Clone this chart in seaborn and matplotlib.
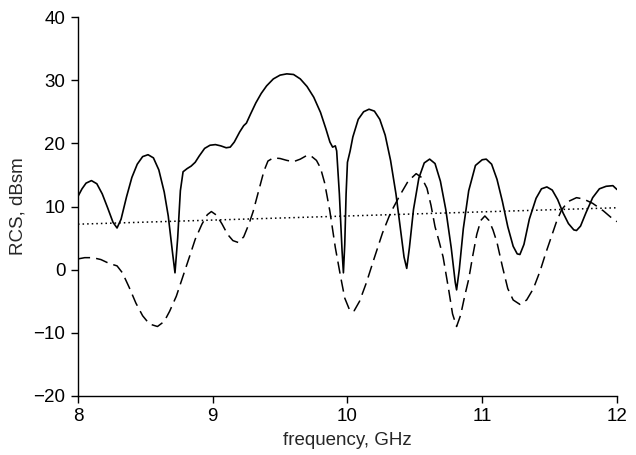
import numpy as np
import pandas as pd
import seaborn as sns
from matplotlib import pyplot as plt

# solid curve
solid_x = [8.00, 8.03, 8.06, 8.10, 8.14, 8.18, 8.22, 8.26, 8.29, 8.32, 8.36, 8.40, 8.44, 8.48,
           8.52, 8.56, 8.60, 8.64, 8.67, 8.70, 8.72, 8.74, 8.76, 8.78, 8.81, 8.84, 8.87, 8.90,
           8.94, 8.98, 9.02, 9.06, 9.10, 9.13, 9.16, 9.20, 9.23, 9.25, 9.28, 9.32, 9.36, 9.40,
           9.45, 9.50, 9.55, 9.60, 9.65, 9.70, 9.75, 9.80, 9.84, 9.87, 9.89, 9.91, 9.92, 9.94,
           9.96, 9.97, 9.98, 9.99, 10.00, 10.02, 10.04, 10.08, 10.12, 10.16, 10.20, 10.24, 10.28,
           10.32, 10.36, 10.39, 10.42, 10.44, 10.46, 10.49, 10.53, 10.57, 10.61, 10.65, 10.69,
           10.73, 10.77, 10.80, 10.81, 10.83, 10.86, 10.90, 10.95, 11.00, 11.03, 11.07, 11.11,
           11.15, 11.19, 11.23, 11.26, 11.28, 11.31, 11.35, 11.40, 11.44, 11.48, 11.52, 11.56,
           11.60, 11.64, 11.68, 11.70, 11.73, 11.77, 11.82, 11.87, 11.92, 11.97, 12.00]
solid_y = [11.6, 12.8, 13.7, 14.1, 13.6, 12.0, 9.8, 7.5, 6.6, 8.0, 11.5, 14.6, 16.7, 17.9,
           18.2, 17.7, 15.8, 12.3, 8.5, 3.0, -0.5, 5.0, 12.5, 15.5, 16.0, 16.4, 17.0, 18.0,
           19.2, 19.7, 19.8, 19.6, 19.3, 19.4, 20.2, 21.8, 22.8, 23.2, 24.6, 26.4, 27.9, 29.1,
           30.2, 30.8, 31.0, 30.9, 30.2, 29.0, 27.3, 24.9, 22.3, 20.2, 19.4, 19.6, 18.8, 12.0,
           3.0, -0.5, 4.0, 12.0, 17.0, 18.8, 21.0, 23.8, 25.0, 25.4, 25.1, 23.8, 21.3,
           17.3, 12.0, 7.0, 2.0, 0.2, 3.5, 9.5, 14.5, 16.9, 17.5, 16.8, 14.0,
           9.5, 3.5, -2.0, -3.2, 0.0, 6.5, 12.5, 16.5, 17.4, 17.5, 16.7, 14.3,
           10.8, 6.8, 3.7, 2.5, 2.4, 4.0, 8.0, 11.3, 12.8, 13.1, 12.6, 11.1,
           9.0, 7.3, 6.3, 6.2, 6.9, 9.0, 11.4, 12.8, 13.2, 13.3, 12.7]

# dashed curve
dashed_x = [8.00, 8.05, 8.11, 8.17, 8.23, 8.29, 8.33, 8.38, 8.43, 8.48, 8.53, 8.59, 8.64, 8.68,
            8.73, 8.78, 8.83, 8.87, 8.92, 8.96, 8.99, 9.03, 9.07, 9.11, 9.15, 9.19, 9.23, 9.27,
            9.30, 9.34, 9.38, 9.41, 9.45, 9.50, 9.55, 9.60, 9.65, 9.70, 9.73, 9.77, 9.80, 9.83,
            9.87, 9.91, 9.95, 9.98, 10.02, 10.05, 10.09, 10.14, 10.20, 10.26, 10.32, 10.39,
            10.45, 10.51, 10.55, 10.59, 10.62, 10.65, 10.68, 10.71, 10.75, 10.78, 10.81, 10.84,
            10.87, 10.90, 10.93, 10.96, 10.99, 11.02, 11.05, 11.08, 11.11, 11.15, 11.19, 11.23,
            11.28, 11.33, 11.38, 11.43, 11.47, 11.51, 11.55, 11.59, 11.64, 11.70, 11.75, 11.82,
            11.90, 11.96, 12.00]
dashed_y = [1.7, 1.9, 1.9, 1.6, 1.0, 0.6, -0.5, -2.8, -5.3, -7.3, -8.6, -9.0, -8.2, -6.6,
            -4.2, -1.0, 2.2, 4.8, 7.2, 8.7, 9.2, 8.6, 7.2, 5.6, 4.6, 4.3, 5.2, 7.3,
            9.2, 12.4, 15.6, 17.2, 17.7, 17.6, 17.3, 17.1, 17.5, 18.1, 18.0, 17.3, 16.1, 13.8,
            9.2, 3.5, -1.2, -4.5, -6.6, -6.5, -5.0, -2.1, 1.9, 5.8, 9.0, 11.8,
            14.0, 15.2, 14.6, 12.9, 10.2, 6.8, 4.5, 2.0, -3.0, -7.0, -9.0, -7.2,
            -4.2, -1.5, 2.2, 5.6, 7.8, 8.5, 7.8, 6.3, 4.3, 0.5, -3.0, -4.8,
            -5.5, -4.8, -3.0, -0.2, 2.5, 5.0, 7.5, 9.5, 10.8, 11.4, 11.2, 10.5,
            9.3, 8.2, 7.6]

# dotted curve
dotted_x = [8.0, 9.0, 10.0, 11.0, 12.0]
dotted_y = [7.2, 7.85, 8.5, 9.15, 9.8]

sns.set_style('ticks')
plt.rcParams['font.family'] = ['Liberation Sans', 'DejaVu Sans']

fig, ax = plt.subplots(figsize=(6.36, 4.55), dpi=100)
fig.subplots_adjust(left=0.1226, right=0.970, bottom=0.1297, top=0.9626)

sns.lineplot(x=solid_x, y=solid_y, ax=ax, color='black', linewidth=1.2, sort=False)
sns.lineplot(x=dashed_x, y=dashed_y, ax=ax, color='black', linewidth=1.1, sort=False,
             dashes=False, linestyle=(0, (8, 4)))
sns.lineplot(x=dotted_x, y=dotted_y, ax=ax, color='black', linewidth=1.1, sort=False,
             linestyle=(0, (1, 2)))

ax.set_xlim(8, 12)
ax.set_ylim(-20, 40)
ax.set_xticks([8, 9, 10, 11, 12])
ax.set_yticks([-20, -10, 0, 10, 20, 30, 40])
ax.set_yticklabels(['\u221220', '\u221210', '0', '10', '20', '30', '40'])
ax.set_xlabel('frequency, GHz', fontsize=13.5, labelpad=5)
ax.set_ylabel('RCS, dBsm', fontsize=13.5, labelpad=5)
ax.tick_params(labelsize=13.5, length=5, width=1, color='black', labelcolor='black', pad=4)
for s in ['left', 'bottom']:
    ax.spines[s].set_color('black')
    ax.spines[s].set_linewidth(1)
sns.despine(ax=ax)

plt.savefig('out.png', dpi=100)
